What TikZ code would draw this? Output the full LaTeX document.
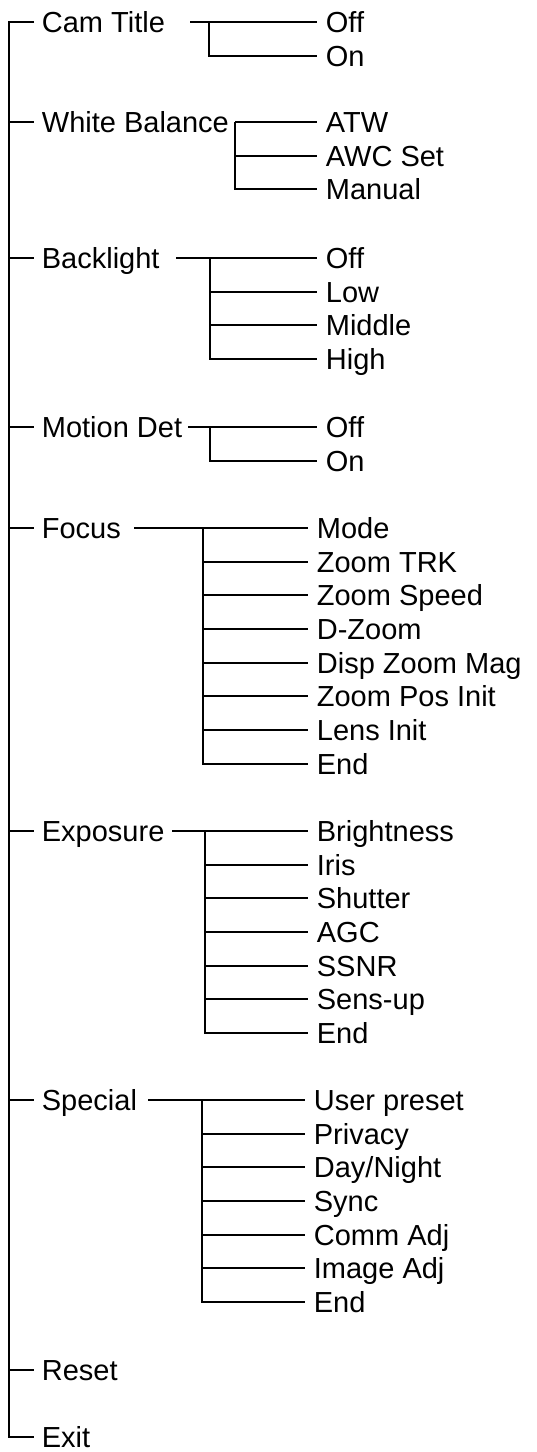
\documentclass[tikz,border=0pt]{standalone}
\usepackage{fontspec}
\setmainfont{Liberation Sans}
\usepackage{tikz}
\usetikzlibrary{calc, positioning}

\begin{document}
\begin{tikzpicture}[x=1pt, y=-1pt, line width=1.8pt,
    mainitem/.style={anchor=west, inner xsep=7pt, inner ysep=0pt,
        text height=21pt, text depth=0pt, font=\fontsize{29}{34}\selectfont},
    subitem/.style={mainitem, inner xsep=8pt}]
    % 0. Khung hình
    \useasboundingbox (0,0) rectangle (537,1452);

    % 1. Trục dọc chính
    \coordinate (trunktop) at (9,22);
    \coordinate (trunkbot) at (9,1437);

    % 2. Các mục chính và menu con
    \foreach \g/\txt/\y/\s/\b/\e/\kids in {
        cam/Cam Title/22/190/209/317/{Off,On},
        wb/White Balance/122/235/235/317/{ATW,AWC Set,Manual},
        bl/Backlight/258/176/210/317/{Off,Low,Middle,High},
        md/Motion Det/427/188/210/317/{Off,On},
        fc/Focus/528/134/203/308/{Mode,Zoom TRK,Zoom Speed,D-Zoom,Disp Zoom Mag,Zoom Pos Init,Lens Init,End},
        ex/Exposure/831/172/205/308/{Brightness,Iris,Shutter,AGC,SSNR,Sens-up,End},
        sp/Special/1100/148/202/305/{User preset,Privacy,Day/Night,Sync,Comm Adj,Image Adj,End}}
    {
        \node[mainitem] (\g) at (34,\y) {\txt};
        \draw (\g.west -| trunktop) -- (\g.west);
        \coordinate (\g-s) at (\s,\y);
        \foreach \c [count=\k from 0, evaluate=\k as \yk using int(\y+\k*33.7+0.5)] in \kids {
            \node[subitem] (\g-\k) at (\e,\yk) {\c};
            \draw (\b,\yk) -- (\g-\k.west);
            \xdef\last{\k}
        }
        \draw (\g-s) -- (\g-0.west);
        \draw (\b,\y) |- (\g-\last.west);
    }

    % 3. Reset và Exit
    \node[mainitem] (reset) at (34,1370) {Reset};
    \node[mainitem] (exit) at (34,1437) {Exit};
    \draw (reset.west -| trunktop) -- (reset.west);
    \draw (cam.west) -- (trunktop) -- (trunkbot) -- (exit.west);
\end{tikzpicture}
\end{document}
